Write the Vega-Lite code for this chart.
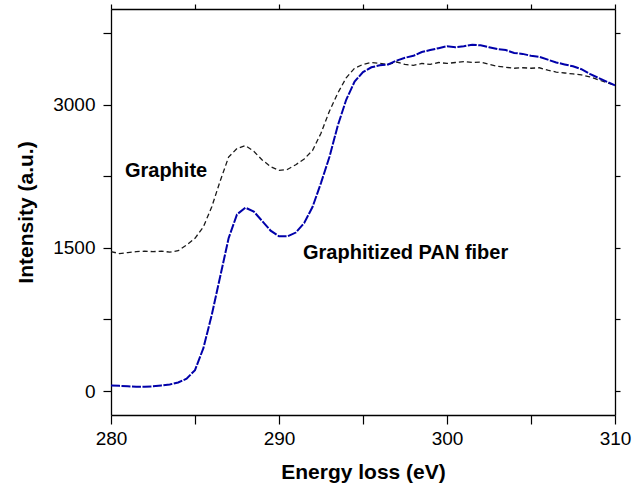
{
  "$schema": "https://vega.github.io/schema/vega-lite/v6.json",
  "width": 504,
  "height": 406,
  "autosize": {"type": "none"},
  "padding": {"left": 111, "top": 9, "right": 17, "bottom": 69},
  "background": "white",
  "config": {
    "view": {"stroke": null},
    "axis": {
      "domainColor": "black",
      "domainWidth": 1.3,
      "ticks": true,
      "tickColor": "black",
      "tickWidth": 1.2,
      "labelFont": "Liberation Sans",
      "labelFontSize": 19,
      "labelColor": "black",
      "labelFlush": false,
      "labelOverlap": false,
      "titleFont": "Liberation Sans",
      "titleFontSize": 21,
      "titleFontWeight": "bold",
      "titleColor": "black",
      "grid": false
    }
  },
  "datasets": {
    "graphite": [
      {"e": 280, "i": 1460}, {"e": 280.5, "i": 1440}, {"e": 281, "i": 1450}, {"e": 281.5, "i": 1460},
      {"e": 282, "i": 1465}, {"e": 282.5, "i": 1460}, {"e": 283, "i": 1465}, {"e": 283.5, "i": 1455},
      {"e": 284, "i": 1470}, {"e": 284.5, "i": 1530}, {"e": 285, "i": 1600}, {"e": 285.5, "i": 1720},
      {"e": 286, "i": 1930}, {"e": 286.5, "i": 2200}, {"e": 287, "i": 2450}, {"e": 287.5, "i": 2540},
      {"e": 288, "i": 2570}, {"e": 288.5, "i": 2510}, {"e": 289, "i": 2420}, {"e": 289.5, "i": 2350},
      {"e": 290, "i": 2310}, {"e": 290.5, "i": 2320}, {"e": 291, "i": 2370}, {"e": 291.5, "i": 2430},
      {"e": 292, "i": 2520}, {"e": 292.5, "i": 2700}, {"e": 293, "i": 2930}, {"e": 293.5, "i": 3120},
      {"e": 294, "i": 3280}, {"e": 294.5, "i": 3380}, {"e": 295, "i": 3420}, {"e": 295.5, "i": 3440},
      {"e": 296, "i": 3430}, {"e": 296.5, "i": 3420}, {"e": 297, "i": 3445}, {"e": 297.5, "i": 3420},
      {"e": 298, "i": 3410}, {"e": 298.5, "i": 3430}, {"e": 299, "i": 3420}, {"e": 299.5, "i": 3440},
      {"e": 300, "i": 3430}, {"e": 300.5, "i": 3440}, {"e": 301, "i": 3450}, {"e": 301.5, "i": 3440},
      {"e": 302, "i": 3445}, {"e": 302.5, "i": 3420}, {"e": 303, "i": 3400}, {"e": 303.5, "i": 3390},
      {"e": 304, "i": 3380}, {"e": 304.5, "i": 3385}, {"e": 305, "i": 3380}, {"e": 305.5, "i": 3385},
      {"e": 306, "i": 3360}, {"e": 306.5, "i": 3340}, {"e": 307, "i": 3330}, {"e": 307.5, "i": 3320},
      {"e": 308, "i": 3310}, {"e": 308.5, "i": 3290}, {"e": 309, "i": 3260}, {"e": 309.5, "i": 3230},
      {"e": 310, "i": 3200}
    ],
    "pan": [
      {"e": 280, "i": 60}, {"e": 280.5, "i": 55}, {"e": 281, "i": 50}, {"e": 281.5, "i": 45},
      {"e": 282, "i": 45}, {"e": 282.5, "i": 50}, {"e": 283, "i": 60}, {"e": 283.5, "i": 70},
      {"e": 284, "i": 90}, {"e": 284.5, "i": 130}, {"e": 285, "i": 220}, {"e": 285.5, "i": 450},
      {"e": 286, "i": 800}, {"e": 286.5, "i": 1200}, {"e": 287, "i": 1600}, {"e": 287.5, "i": 1850},
      {"e": 288, "i": 1920}, {"e": 288.5, "i": 1880}, {"e": 289, "i": 1780}, {"e": 289.5, "i": 1680},
      {"e": 290, "i": 1620}, {"e": 290.5, "i": 1620}, {"e": 291, "i": 1660}, {"e": 291.5, "i": 1760},
      {"e": 292, "i": 1930}, {"e": 292.5, "i": 2180}, {"e": 293, "i": 2450}, {"e": 293.5, "i": 2780},
      {"e": 294, "i": 3050}, {"e": 294.5, "i": 3240}, {"e": 295, "i": 3340}, {"e": 295.5, "i": 3390},
      {"e": 296, "i": 3410}, {"e": 296.5, "i": 3420}, {"e": 297, "i": 3460}, {"e": 297.5, "i": 3490},
      {"e": 298, "i": 3510}, {"e": 298.5, "i": 3550}, {"e": 299, "i": 3570}, {"e": 299.5, "i": 3590},
      {"e": 300, "i": 3610}, {"e": 300.5, "i": 3600}, {"e": 301, "i": 3610}, {"e": 301.5, "i": 3625},
      {"e": 302, "i": 3620}, {"e": 302.5, "i": 3600}, {"e": 303, "i": 3580}, {"e": 303.5, "i": 3570},
      {"e": 304, "i": 3540}, {"e": 304.5, "i": 3530}, {"e": 305, "i": 3510}, {"e": 305.5, "i": 3500},
      {"e": 306, "i": 3470}, {"e": 306.5, "i": 3440}, {"e": 307, "i": 3420}, {"e": 307.5, "i": 3400},
      {"e": 308, "i": 3370}, {"e": 308.5, "i": 3320}, {"e": 309, "i": 3280}, {"e": 309.5, "i": 3240},
      {"e": 310, "i": 3200}
    ],
    "labels": [
      {"e": 280.83, "i": 2300, "t": "Graphite"},
      {"e": 291.43, "i": 1450, "t": "Graphitized PAN fiber"}
    ]
  },
  "resolve": {"axis": {"x": "independent", "y": "independent"}},
  "layer": [
    {
      "data": {"name": "graphite"},
      "mark": {"type": "line", "color": "#1a1a1a", "strokeWidth": 1.3, "strokeDash": [5, 3]},
      "encoding": {
        "x": {
          "field": "e", "type": "quantitative",
          "scale": {"domain": [280, 310], "nice": false, "zero": false},
          "axis": {
            "orient": "bottom",
            "title": "Energy loss (eV)",
            "values": [280, 285, 290, 295, 300, 305, 310],
            "format": "d",
            "labelExpr": "datum.value % 10 === 0 ? datum.label : ''",
            "tickSize": 9,
            "labelPadding": 5,
            "titlePadding": 13,
            "encode": {"ticks": {"update": {"y2": {"signal": "datum.value % 10 === 0 ? 9 : 5"}}}}
          }
        },
        "y": {
          "field": "i", "type": "quantitative",
          "scale": {"domain": [-250, 4000], "nice": false, "zero": false},
          "axis": {
            "orient": "left",
            "title": "Intensity (a.u.)",
            "values": [0, 750, 1500, 2250, 3000, 3750],
            "format": "d",
            "labelExpr": "datum.value % 1500 === 0 ? datum.label : ''",
            "tickSize": 8,
            "labelPadding": 8,
            "titlePadding": 16,
            "encode": {"ticks": {"update": {"x2": {"signal": "datum.value % 1500 === 0 ? -8 : -4"}}}}
          }
        }
      }
    },
    {
      "data": {"name": "pan"},
      "mark": {"type": "line", "color": "#0000aa", "strokeWidth": 2, "strokeDash": [9, 1.5]},
      "encoding": {
        "x": {
          "field": "e", "type": "quantitative",
          "axis": {
            "orient": "top",
            "title": null,
            "labels": false,
            "values": [280, 285, 290, 295, 300, 305, 310],
            "tickSize": 5,
            "encode": {"ticks": {"update": {"y2": {"signal": "datum.value % 10 === 0 ? 7 : 5"}}}}
          }
        },
        "y": {
          "field": "i", "type": "quantitative",
          "axis": {
            "orient": "right",
            "title": null,
            "labels": false,
            "values": [0, 750, 1500, 2250, 3000, 3750],
            "tickSize": 5,
            "encode": {"ticks": {"update": {"x2": {"signal": "datum.value % 1500 === 0 ? -6 : -4"}}}}
          }
        }
      }
    },
    {
      "data": {"name": "labels"},
      "mark": {"type": "text", "align": "left", "baseline": "middle", "font": "Liberation Sans", "fontSize": 20, "fontWeight": "bold", "color": "black"},
      "encoding": {
        "x": {"field": "e", "type": "quantitative", "axis": null},
        "y": {"field": "i", "type": "quantitative", "axis": null},
        "text": {"field": "t"}
      }
    }
  ]
}
